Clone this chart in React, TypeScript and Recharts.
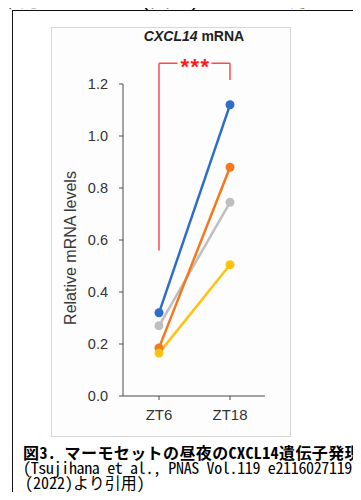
import { LineChart, Line, XAxis, YAxis, ReferenceLine } from "recharts";

const categories = ["ZT6", "ZT18"];
const blueLevels = [0.32, 1.12];
const orangeLevels = [0.185, 0.88];
const grayLevels = [0.27, 0.745];
const yellowLevels = [0.165, 0.505];
const yTicks = [0, 0.2, 0.4, 0.6, 0.8, 1.0, 1.2];

// significance bracket between ZT6 and ZT18
const bracketTop = 1.28;
const bracketLeftFoot = 0.56;
const bracketRightFoot = 1.215;
const sigLabel = "***";

const data = categories.map((name, i) => ({
  name,
  blue: blueLevels[i],
  orange: orangeLevels[i],
  gray: grayLevels[i],
  yellow: yellowLevels[i],
}));

const AXIS = "#4a4a4a";
const BRACKET = "#ff4a4a";
const PLOT_BG = "#fdfdfd";
const sans = "'Liberation Sans', Arial, sans-serif";
const jp = "'Noto Sans CJK JP', sans-serif";

const SigLabel = (props: any) => {
  const vb = props.viewBox || {};
  const cx = vb.x + vb.width / 2;
  const y = vb.y;
  return (
    <g>
      <rect x={cx - 17} y={y - 4} width={34} height={8} fill={PLOT_BG} />
      <text
        x={cx + 1}
        y={y + 11}
        textAnchor="middle"
        fill="#ff1a1a"
        fontSize={22}
        fontWeight="bold"
        fontFamily={sans}
        letterSpacing={1.5}
      >
        {sigLabel}
      </text>
    </g>
  );
};

const YLabel = (props: any) => {
  const vb = props.viewBox || {};
  const x = vb.x + 19;
  const y = vb.y + vb.height / 2 + 8;
  return (
    <text
      x={x}
      y={y}
      transform={`rotate(-90, ${x}, ${y})`}
      textAnchor="middle"
      dominantBaseline="central"
      fill="#3a3a3a"
      fontSize={16}
      fontFamily={sans}
    >
      Relative mRNA levels
    </text>
  );
};

const captionStyle = {
  position: "absolute" as const,
  fontFamily: jp,
  fontSize: 16,
  lineHeight: "15px",
  height: 15,
  whiteSpace: "nowrap" as const,
  color: "#000",
  fontFeatureSettings: '"hwid"',
};

export default function App() {
  const seriesOrder = [
    { key: "gray", color: "#bfbfbf" },
    { key: "orange", color: "#f5781e" },
    { key: "yellow", color: "#ffc20e" },
    { key: "blue", color: "#2e6dc8" },
  ];

  return (
    <div
      style={{
        position: "relative",
        width: 361,
        height: 500,
        margin: -8,
        overflow: "hidden",
        background: "#fff",
      }}
    >
      <div
        style={{
          position: "absolute",
          left: 0,
          top: -11,
          fontFamily: jp,
          fontSize: 20,
          lineHeight: "20px",
          whiteSpace: "nowrap",
          color: "#000",
          fontFeatureSettings: '"hwid"',
        }}
      >
        確認されました（図 2）。 また、方
      </div>
      <div
        style={{
          position: "absolute",
          left: 12,
          top: 10,
          width: 400,
          height: 520,
          borderLeft: "1px solid #111",
          borderTop: "1px solid #111",
        }}
      />
      <div
        style={{
          position: "absolute",
          left: 51,
          top: 27,
          width: 240,
          height: 410,
          boxSizing: "border-box",
          border: "1px solid #d6d6d6",
          background: PLOT_BG,
        }}
      />
      <div
        style={{
          position: "absolute",
          left: 194,
          top: 29,
          transform: "translateX(-50%)",
          fontFamily: sans,
          fontSize: 14,
          lineHeight: "14px",
          fontWeight: "bold",
          color: "#222",
          whiteSpace: "nowrap",
        }}
      >
        <i>CXCL14</i> mRNA
      </div>
      <div style={{ position: "absolute", left: 51, top: 27 }}>
        <LineChart
          width={240}
          height={410}
          data={data}
          margin={{ top: 57, right: 26, bottom: 0, left: 0 }}
        >
          <XAxis
            dataKey="name"
            height={41}
            padding={{ left: 36, right: 35 }}
            stroke={AXIS}
            tickSize={4}
            tickMargin={9}
            tick={{ fill: "#333", fontSize: 15, fontFamily: sans }}
          />
          <YAxis
            width={72}
            domain={[0, 1.2]}
            ticks={yTicks}
            allowDataOverflow
            stroke={AXIS}
            tickSize={4}
            tickMargin={11}
            tickFormatter={(v: number) => v.toFixed(1)}
            tick={{ fill: "#333", fontSize: 14.5, fontFamily: sans }}
            label={<YLabel />}
          />
          <ReferenceLine
            segment={[
              { x: "ZT6", y: bracketLeftFoot },
              { x: "ZT6", y: bracketTop },
            ]}
            stroke={BRACKET}
            strokeWidth={1.5}
            ifOverflow="visible"
          />
          <ReferenceLine
            segment={[
              { x: "ZT18", y: bracketRightFoot },
              { x: "ZT18", y: bracketTop },
            ]}
            stroke={BRACKET}
            strokeWidth={1.5}
            ifOverflow="visible"
          />
          <ReferenceLine
            segment={[
              { x: "ZT6", y: bracketTop },
              { x: "ZT18", y: bracketTop },
            ]}
            stroke={BRACKET}
            strokeWidth={1.5}
            ifOverflow="visible"
            label={<SigLabel />}
          />
          {seriesOrder.map((s) => (
            <Line
              key={s.key}
              type="linear"
              dataKey={s.key}
              stroke={s.color}
              strokeWidth={2.5}
              dot={{ r: 4.5, fill: s.color, stroke: "none" }}
              activeDot={false}
              isAnimationActive={false}
            />
          ))}
        </LineChart>
      </div>
      <div
        style={{
          ...captionStyle,
          left: 23,
          top: 445,
          fontWeight: "bold",
          letterSpacing: 0.4,
        }}
      >
        図3. マーモセットの昼夜のCXCL14遺伝子発現
      </div>
      <div style={{ ...captionStyle, left: 23, top: 460, letterSpacing: -0.35 }}>
        (Tsujihana et al., PNAS Vol.119 e2116027119
      </div>
      <div style={{ ...captionStyle, left: 25, top: 475 }}>
        (2022)より引用)
      </div>
    </div>
  );
}
